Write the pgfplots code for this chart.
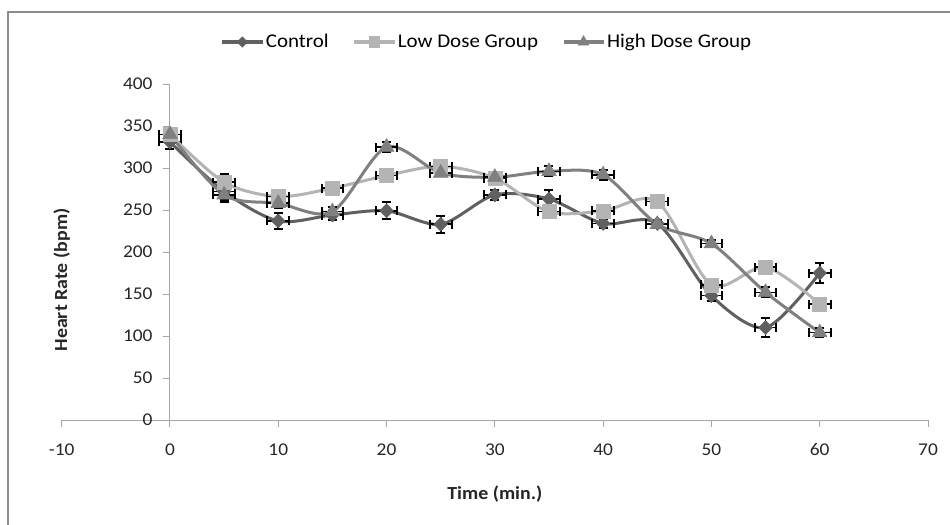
\documentclass[border=0pt]{standalone}
\usepackage{pgfplots}
\pgfplotsset{compat=1.18}
\usepackage{pgfplotstable}
\usepackage{fontspec}
\setmainfont{Carlito}[FakeStretch=1.08]
\definecolor{cctrl}{HTML}{606060}
\definecolor{clow}{HTML}{B4B4B4}
\definecolor{chigh}{HTML}{808080}
\definecolor{caxis}{HTML}{A6A6A6}
\definecolor{cframe}{HTML}{8C8C8C}
\pgfplotstableread{
t  c    ec  l    el  h    eh  ex
0  331  8   340  6   340  8   1.0
5  272  12  283  10  268  6   1.0
10 237  10  266  5   258  6   1.0
15 244  6   276  4   248  6   1.0
20 249  10  291  4   325  6   1.0
25 233  10  302  5   294  4   1.0
30 268  6   288  4   289  6   1.0
35 263  11  248  4   296  6   1.0
40 234  5   249  4   292  6   1.0
45 234  4   260  4   233  4   1.0
50 148  6   161  4   210  4   1.0
55 110  11  182  4   152  6   1.0
60 175  12  138  4   104  5   1.0
}\data
\begin{document}
\begin{tikzpicture}
\useasboundingbox (-61.7bp,-105bp) rectangle (888.3bp,420bp);
\draw[cframe, line width=1.4bp] (-53.7bp,-130bp) -- (-53.7bp,408bp) -- (900bp,408bp);
\begin{axis}[
  scale only axis, width=866.3bp, height=336bp,
  xmin=-10, xmax=70, ymin=0, ymax=400,
  axis lines=middle,
  axis line style={caxis, line width=1bp, -},
  xtick={-10,0,...,70}, ytick={0,50,...,400},
  tick style={caxis, line width=1bp},
  tick align=outside, major tick length=7bp,
  hide obscured x ticks=false, hide obscured y ticks=false,
  /pgf/number format/assume math mode=true,
  tick label style={font=\fontsize{18}{20}\selectfont, black!85},
  xticklabel style={yshift=-13bp},
  yticklabel style={xshift=-7bp},
  every axis x label/.style={at={(axis description cs:0.5,0)}, anchor=center, yshift=-74bp},
  every axis y label/.style={at={(axis description cs:0,0.5)}, rotate=90, anchor=center, xshift=-28bp},
  label style={font=\bfseries\fontsize{18.5}{20}\selectfont, black!85},
  xlabel={Time (min.)}, ylabel={Heart Rate (bpm)},
  legend style={at={(axis description cs:0.491,1)}, anchor=center, yshift=42bp,
    legend columns=3, draw=none, fill=none, font=\fontsize{19.5}{21}\selectfont,
    /tikz/every even column/.append style={column sep=22bp}},
  legend image code/.code={\draw[mark repeat=2,mark phase=2,every mark/.append style={scale=0.75}] plot coordinates {(0bp,0bp) (20bp,0bp) (40bp,0bp)};},
  error bars/error bar style={black, line width=1.6bp},
  error bars/error mark options={rotate=90, mark size=4.5bp, line width=2bp, black},
]
\addplot[cctrl, line width=3bp, smooth, tension=0.5, mark=diamond*, mark size=7bp,
  mark options={solid, xscale=1.3, fill=cctrl, draw=cctrl, line width=0.5bp},
  error bars/.cd, x dir=both, x explicit, y dir=both, y explicit]
  table[x=t, y=c, x error=ex, y error=ec] {\data};
\addlegendentry{Control}
\addplot[clow, line width=3bp, smooth, tension=0.5, mark=square*, mark size=7bp,
  mark options={solid, fill=clow, draw=clow, line width=0.5bp},
  error bars/.cd, x dir=both, x explicit, y dir=both, y explicit]
  table[x=t, y=l, x error=ex, y error=el] {\data};
\addlegendentry{Low Dose Group}
\addplot[chigh, line width=3bp, smooth, tension=0.5, mark=triangle*, mark size=8.5bp,
  mark options={solid, fill=chigh, draw=chigh, line width=0.5bp},
  error bars/.cd, x dir=both, x explicit, y dir=both, y explicit]
  table[x=t, y=h, x error=ex, y error=eh] {\data};
\addlegendentry{High Dose Group}
\end{axis}
\end{tikzpicture}
\end{document}
